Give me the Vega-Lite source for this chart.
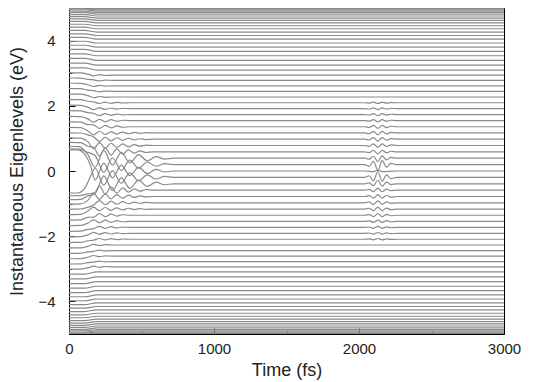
{
"$schema": "https://vega.github.io/schema/vega-lite/v6.json",
"width": 435, "height": 326,
"autosize": {"type": "none"},
"padding": {"left": 69, "top": 8, "right": 30, "bottom": 48},
"background": "white",
"config": {"view": {"stroke": "black", "strokeWidth": 1},
 "axis": {"grid": false, "domainColor": "black", "tickColor": "black", "labelFont": "Liberation Sans", "titleFont": "Liberation Sans", "labelFontSize": 15, "titleFontSize": 18, "titleFontWeight": "normal", "labelColor": "#222", "titleColor": "#222"}},
"data": {"values": [
{"k":1,"t":0,"e":5.038},{"k":1,"t":110,"e":5.038},{"k":1,"t":190,"e":4.996},{"k":1,"t":3000,"e":4.996},
{"k":2,"t":0,"e":5.027},{"k":2,"t":110,"e":5.027},{"k":2,"t":190,"e":4.985},{"k":2,"t":3000,"e":4.985},
{"k":3,"t":0,"e":5.007},{"k":3,"t":110,"e":5.007},{"k":3,"t":190,"e":4.965},{"k":3,"t":3000,"e":4.965},
{"k":4,"t":0,"e":4.981},{"k":4,"t":110,"e":4.981},{"k":4,"t":190,"e":4.938},{"k":4,"t":3000,"e":4.938},
{"k":5,"t":0,"e":4.947},{"k":5,"t":110,"e":4.947},{"k":5,"t":190,"e":4.904},{"k":5,"t":3000,"e":4.904},
{"k":6,"t":0,"e":4.905},{"k":6,"t":110,"e":4.905},{"k":6,"t":190,"e":4.862},{"k":6,"t":3000,"e":4.862},
{"k":7,"t":0,"e":4.856},{"k":7,"t":110,"e":4.856},{"k":7,"t":190,"e":4.812},{"k":7,"t":3000,"e":4.812},
{"k":8,"t":0,"e":4.799},{"k":8,"t":110,"e":4.799},{"k":8,"t":190,"e":4.755},{"k":8,"t":3000,"e":4.755},
{"k":9,"t":0,"e":4.736},{"k":9,"t":110,"e":4.736},{"k":9,"t":190,"e":4.691},{"k":9,"t":3000,"e":4.691},
{"k":10,"t":0,"e":4.665},{"k":10,"t":110,"e":4.665},{"k":10,"t":190,"e":4.619},{"k":10,"t":3000,"e":4.619},
{"k":11,"t":0,"e":4.587},{"k":11,"t":110,"e":4.587},{"k":11,"t":190,"e":4.541},{"k":11,"t":3000,"e":4.541},
{"k":12,"t":0,"e":4.502},{"k":12,"t":110,"e":4.502},{"k":12,"t":190,"e":4.455},{"k":12,"t":3000,"e":4.455},
{"k":13,"t":0,"e":4.411},{"k":13,"t":110,"e":4.411},{"k":13,"t":190,"e":4.363},{"k":13,"t":3000,"e":4.363},
{"k":14,"t":0,"e":4.312},{"k":14,"t":110,"e":4.312},{"k":14,"t":190,"e":4.263},{"k":14,"t":3000,"e":4.263},
{"k":15,"t":0,"e":4.207},{"k":15,"t":110,"e":4.207},{"k":15,"t":190,"e":4.157},{"k":15,"t":3000,"e":4.157},
{"k":16,"t":0,"e":4.097},{"k":16,"t":110,"e":4.097},{"k":16,"t":190,"e":4.045},{"k":16,"t":3000,"e":4.045},
{"k":17,"t":0,"e":3.98},{"k":17,"t":110,"e":3.98},{"k":17,"t":190,"e":3.927},{"k":17,"t":3000,"e":3.927},
{"k":18,"t":0,"e":3.857},{"k":18,"t":110,"e":3.857},{"k":18,"t":190,"e":3.802},{"k":18,"t":3000,"e":3.802},
{"k":19,"t":0,"e":3.729},{"k":19,"t":110,"e":3.729},{"k":19,"t":190,"e":3.672},{"k":19,"t":3000,"e":3.672},
{"k":20,"t":0,"e":3.595},{"k":20,"t":110,"e":3.595},{"k":20,"t":190,"e":3.536},{"k":20,"t":3000,"e":3.536},
{"k":21,"t":0,"e":3.456},{"k":21,"t":110,"e":3.456},{"k":21,"t":190,"e":3.394},{"k":21,"t":3000,"e":3.394},
{"k":22,"t":0,"e":3.311},{"k":22,"t":110,"e":3.311},{"k":22,"t":190,"e":3.247},{"k":22,"t":3000,"e":3.247},
{"k":23,"t":0,"e":3.163},{"k":23,"t":110,"e":3.163},{"k":23,"t":190,"e":3.095},{"k":23,"t":3000,"e":3.095},
{"k":24,"t":0,"e":3.01},{"k":24,"t":80,"e":3.007},{"k":24,"t":130,"e":2.97},{"k":24,"t":170,"e":2.919},{"k":24,"t":210,"e":2.954},{"k":24,"t":250,"e":2.929},{"k":24,"t":300,"e":2.939},{"k":24,"t":3000,"e":2.939},
{"k":25,"t":0,"e":2.853},{"k":25,"t":80,"e":2.85},{"k":25,"t":130,"e":2.81},{"k":25,"t":170,"e":2.798},{"k":25,"t":210,"e":2.763},{"k":25,"t":250,"e":2.788},{"k":25,"t":300,"e":2.778},{"k":25,"t":3000,"e":2.778},
{"k":26,"t":0,"e":2.692},{"k":26,"t":80,"e":2.69},{"k":26,"t":130,"e":2.645},{"k":26,"t":170,"e":2.592},{"k":26,"t":210,"e":2.627},{"k":26,"t":250,"e":2.602},{"k":26,"t":300,"e":2.612},{"k":26,"t":3000,"e":2.612},
{"k":27,"t":0,"e":2.528},{"k":27,"t":80,"e":2.525},{"k":27,"t":130,"e":2.48},{"k":27,"t":170,"e":2.463},{"k":27,"t":210,"e":2.428},{"k":27,"t":250,"e":2.453},{"k":27,"t":300,"e":2.443},{"k":27,"t":3000,"e":2.443},
{"k":28,"t":0,"e":2.361},{"k":28,"t":80,"e":2.358},{"k":28,"t":130,"e":2.31},{"k":28,"t":170,"e":2.25},{"k":28,"t":210,"e":2.285},{"k":28,"t":250,"e":2.26},{"k":28,"t":300,"e":2.27},{"k":28,"t":3000,"e":2.27},
{"k":29,"t":0,"e":2.192},{"k":29,"t":80,"e":2.19},{"k":29,"t":130,"e":2.14},{"k":29,"t":170,"e":2.12},{"k":29,"t":210,"e":2.071},{"k":29,"t":250,"e":2.113},{"k":29,"t":290,"e":2.077},{"k":29,"t":330,"e":2.104},{"k":29,"t":370,"e":2.086},{"k":29,"t":420,"e":2.093},{"k":29,"t":2040,"e":2.093},{"k":29,"t":2070,"e":2.084},{"k":29,"t":2100,"e":2.111},{"k":29,"t":2130,"e":2.071},{"k":29,"t":2160,"e":2.111},{"k":29,"t":2190,"e":2.082},{"k":29,"t":2220,"e":2.1},{"k":29,"t":2260,"e":2.093},{"k":29,"t":3000,"e":2.093},
{"k":30,"t":0,"e":2.02},{"k":30,"t":80,"e":2.015},{"k":30,"t":130,"e":1.96},{"k":30,"t":170,"e":1.88},{"k":30,"t":210,"e":1.941},{"k":30,"t":250,"e":1.888},{"k":30,"t":290,"e":1.932},{"k":30,"t":330,"e":1.899},{"k":30,"t":370,"e":1.921},{"k":30,"t":420,"e":1.913},{"k":30,"t":2040,"e":1.913},{"k":30,"t":2070,"e":1.902},{"k":30,"t":2100,"e":1.935},{"k":30,"t":2130,"e":1.886},{"k":30,"t":2160,"e":1.935},{"k":30,"t":2190,"e":1.899},{"k":30,"t":2220,"e":1.921},{"k":30,"t":2260,"e":1.913},{"k":30,"t":3000,"e":1.913},
{"k":31,"t":0,"e":1.849},{"k":31,"t":80,"e":1.845},{"k":31,"t":130,"e":1.79},{"k":31,"t":170,"e":1.77},{"k":31,"t":210,"e":1.699},{"k":31,"t":250,"e":1.76},{"k":31,"t":290,"e":1.708},{"k":31,"t":330,"e":1.747},{"k":31,"t":370,"e":1.721},{"k":31,"t":420,"e":1.731},{"k":31,"t":2040,"e":1.731},{"k":31,"t":2070,"e":1.718},{"k":31,"t":2100,"e":1.757},{"k":31,"t":2130,"e":1.699},{"k":31,"t":2160,"e":1.757},{"k":31,"t":2190,"e":1.715},{"k":31,"t":2220,"e":1.741},{"k":31,"t":2260,"e":1.731},{"k":31,"t":3000,"e":1.731},
{"k":32,"t":0,"e":1.676},{"k":32,"t":80,"e":1.67},{"k":32,"t":130,"e":1.6},{"k":32,"t":170,"e":1.497},{"k":32,"t":210,"e":1.585},{"k":32,"t":250,"e":1.509},{"k":32,"t":290,"e":1.573},{"k":32,"t":330,"e":1.525},{"k":32,"t":370,"e":1.557},{"k":32,"t":420,"e":1.545},{"k":32,"t":2040,"e":1.545},{"k":32,"t":2070,"e":1.529},{"k":32,"t":2100,"e":1.577},{"k":32,"t":2130,"e":1.505},{"k":32,"t":2160,"e":1.577},{"k":32,"t":2190,"e":1.525},{"k":32,"t":2220,"e":1.557},{"k":32,"t":2260,"e":1.545},{"k":32,"t":3000,"e":1.545},
{"k":33,"t":0,"e":1.505},{"k":33,"t":80,"e":1.5},{"k":33,"t":130,"e":1.42},{"k":33,"t":170,"e":1.417},{"k":33,"t":210,"e":1.307},{"k":33,"t":250,"e":1.402},{"k":33,"t":290,"e":1.322},{"k":33,"t":330,"e":1.382},{"k":33,"t":370,"e":1.342},{"k":33,"t":420,"e":1.357},{"k":33,"t":2040,"e":1.357},{"k":33,"t":2070,"e":1.337},{"k":33,"t":2100,"e":1.397},{"k":33,"t":2130,"e":1.307},{"k":33,"t":2160,"e":1.397},{"k":33,"t":2190,"e":1.332},{"k":33,"t":2220,"e":1.372},{"k":33,"t":2260,"e":1.357},{"k":33,"t":3000,"e":1.357},
{"k":34,"t":0,"e":1.336},{"k":34,"t":80,"e":1.33},{"k":34,"t":130,"e":1.23},{"k":34,"t":170,"e":1.111},{"k":34,"t":210,"e":1.219},{"k":34,"t":250,"e":1.119},{"k":34,"t":290,"e":1.207},{"k":34,"t":330,"e":1.131},{"k":34,"t":370,"e":1.195},{"k":34,"t":410,"e":1.143},{"k":34,"t":450,"e":1.183},{"k":34,"t":490,"e":1.155},{"k":34,"t":530,"e":1.175},{"k":34,"t":580,"e":1.167},{"k":34,"t":2040,"e":1.167},{"k":34,"t":2070,"e":1.143},{"k":34,"t":2100,"e":1.215},{"k":34,"t":2130,"e":1.107},{"k":34,"t":2160,"e":1.215},{"k":34,"t":2190,"e":1.137},{"k":34,"t":2220,"e":1.185},{"k":34,"t":2260,"e":1.167},{"k":34,"t":3000,"e":1.167},
{"k":35,"t":0,"e":1.172},{"k":35,"t":80,"e":1.165},{"k":35,"t":130,"e":1.11},{"k":35,"t":170,"e":1.045},{"k":35,"t":210,"e":0.91},{"k":35,"t":250,"e":1.035},{"k":35,"t":290,"e":0.925},{"k":35,"t":330,"e":1.02},{"k":35,"t":370,"e":0.94},{"k":35,"t":410,"e":1.005},{"k":35,"t":450,"e":0.955},{"k":35,"t":490,"e":0.99},{"k":35,"t":530,"e":0.965},{"k":35,"t":580,"e":0.975},{"k":35,"t":2040,"e":0.975},{"k":35,"t":2070,"e":0.951},{"k":35,"t":2100,"e":1.023},{"k":35,"t":2130,"e":0.915},{"k":35,"t":2160,"e":1.023},{"k":35,"t":2190,"e":0.945},{"k":35,"t":2220,"e":0.993},{"k":35,"t":2260,"e":0.975},{"k":35,"t":3000,"e":0.975},
{"k":36,"t":0,"e":1.017},{"k":36,"t":80,"e":1.01},{"k":36,"t":130,"e":0.9},{"k":36,"t":170,"e":0.682},{"k":36,"t":210,"e":0.872},{"k":36,"t":250,"e":0.702},{"k":36,"t":290,"e":0.852},{"k":36,"t":330,"e":0.722},{"k":36,"t":370,"e":0.832},{"k":36,"t":410,"e":0.742},{"k":36,"t":450,"e":0.812},{"k":36,"t":490,"e":0.762},{"k":36,"t":530,"e":0.792},{"k":36,"t":580,"e":0.782},{"k":36,"t":2040,"e":0.782},{"k":36,"t":2070,"e":0.758},{"k":36,"t":2100,"e":0.83},{"k":36,"t":2130,"e":0.722},{"k":36,"t":2160,"e":0.83},{"k":36,"t":2190,"e":0.752},{"k":36,"t":2220,"e":0.8},{"k":36,"t":2260,"e":0.782},{"k":36,"t":3000,"e":0.782},
{"k":37,"t":0,"e":0.877},{"k":37,"t":80,"e":0.87},{"k":37,"t":130,"e":0.76},{"k":37,"t":170,"e":0.728},{"k":37,"t":210,"e":0.458},{"k":37,"t":250,"e":0.708},{"k":37,"t":290,"e":0.488},{"k":37,"t":330,"e":0.678},{"k":37,"t":370,"e":0.518},{"k":37,"t":410,"e":0.648},{"k":37,"t":450,"e":0.548},{"k":37,"t":490,"e":0.618},{"k":37,"t":530,"e":0.568},{"k":37,"t":580,"e":0.588},{"k":37,"t":2040,"e":0.588},{"k":37,"t":2070,"e":0.564},{"k":37,"t":2100,"e":0.636},{"k":37,"t":2130,"e":0.528},{"k":37,"t":2160,"e":0.636},{"k":37,"t":2190,"e":0.558},{"k":37,"t":2220,"e":0.606},{"k":37,"t":2260,"e":0.588},{"k":37,"t":3000,"e":0.588},
{"k":38,"t":0,"e":0.759},{"k":38,"t":70,"e":0.75},{"k":38,"t":130,"e":0.5},{"k":38,"t":180,"e":0.112},{"k":38,"t":240,"e":0.632},{"k":38,"t":300,"e":0.182},{"k":38,"t":360,"e":0.572},{"k":38,"t":420,"e":0.252},{"k":38,"t":480,"e":0.502},{"k":38,"t":540,"e":0.312},{"k":38,"t":600,"e":0.442},{"k":38,"t":660,"e":0.362},{"k":38,"t":720,"e":0.392},{"k":38,"t":2040,"e":0.392},{"k":38,"t":2070,"e":0.362},{"k":38,"t":2100,"e":0.452},{"k":38,"t":2130,"e":0.284},{"k":38,"t":2160,"e":0.464},{"k":38,"t":2190,"e":0.344},{"k":38,"t":2220,"e":0.416},{"k":38,"t":2260,"e":0.392},{"k":38,"t":3000,"e":0.392},
{"k":39,"t":0,"e":0.679},{"k":39,"t":70,"e":0.67},{"k":39,"t":130,"e":0.57},{"k":39,"t":180,"e":0.476},{"k":39,"t":240,"e":-0.044},{"k":39,"t":300,"e":0.406},{"k":39,"t":360,"e":0.016},{"k":39,"t":420,"e":0.336},{"k":39,"t":480,"e":0.086},{"k":39,"t":540,"e":0.276},{"k":39,"t":600,"e":0.146},{"k":39,"t":660,"e":0.226},{"k":39,"t":720,"e":0.196},{"k":39,"t":2040,"e":0.196},{"k":39,"t":2070,"e":0.146},{"k":39,"t":2100,"e":0.296},{"k":39,"t":2130,"e":0.016},{"k":39,"t":2160,"e":0.316},{"k":39,"t":2190,"e":0.116},{"k":39,"t":2220,"e":0.236},{"k":39,"t":2260,"e":0.196},{"k":39,"t":3000,"e":0.196},
{"k":40,"t":0,"e":0.65},{"k":40,"t":60,"e":0.645},{"k":40,"t":110,"e":0.5},{"k":40,"t":150,"e":0.15},{"k":40,"t":180,"e":-0.28},{"k":40,"t":240,"e":0.24},{"k":40,"t":300,"e":-0.21},{"k":40,"t":360,"e":0.18},{"k":40,"t":420,"e":-0.14},{"k":40,"t":480,"e":0.11},{"k":40,"t":540,"e":-0.08},{"k":40,"t":600,"e":0.05},{"k":40,"t":660,"e":-0.03},{"k":40,"t":720,"e":0},{"k":40,"t":2040,"e":0},{"k":40,"t":2100,"e":-0.02},{"k":40,"t":2130,"e":0.03},{"k":40,"t":2160,"e":-0.02},{"k":40,"t":2260,"e":0},{"k":40,"t":3000,"e":0},
{"k":41,"t":0,"e":-0.679},{"k":41,"t":60,"e":-0.675},{"k":41,"t":110,"e":-0.52},{"k":41,"t":150,"e":-0.15},{"k":41,"t":180,"e":0.084},{"k":41,"t":240,"e":-0.436},{"k":41,"t":300,"e":0.014},{"k":41,"t":360,"e":-0.376},{"k":41,"t":420,"e":-0.056},{"k":41,"t":480,"e":-0.306},{"k":41,"t":540,"e":-0.116},{"k":41,"t":600,"e":-0.246},{"k":41,"t":660,"e":-0.166},{"k":41,"t":720,"e":-0.196},{"k":41,"t":2040,"e":-0.196},{"k":41,"t":2070,"e":-0.146},{"k":41,"t":2100,"e":-0.296},{"k":41,"t":2130,"e":-0.016},{"k":41,"t":2160,"e":-0.316},{"k":41,"t":2190,"e":-0.116},{"k":41,"t":2220,"e":-0.236},{"k":41,"t":2260,"e":-0.196},{"k":41,"t":3000,"e":-0.196},
{"k":42,"t":0,"e":-0.759},{"k":42,"t":70,"e":-0.755},{"k":42,"t":130,"e":-0.7},{"k":42,"t":180,"e":-0.672},{"k":42,"t":240,"e":-0.152},{"k":42,"t":300,"e":-0.602},{"k":42,"t":360,"e":-0.212},{"k":42,"t":420,"e":-0.532},{"k":42,"t":480,"e":-0.282},{"k":42,"t":540,"e":-0.472},{"k":42,"t":600,"e":-0.342},{"k":42,"t":660,"e":-0.422},{"k":42,"t":720,"e":-0.392},{"k":42,"t":2040,"e":-0.392},{"k":42,"t":2070,"e":-0.362},{"k":42,"t":2100,"e":-0.452},{"k":42,"t":2130,"e":-0.284},{"k":42,"t":2160,"e":-0.464},{"k":42,"t":2190,"e":-0.344},{"k":42,"t":2220,"e":-0.416},{"k":42,"t":2260,"e":-0.392},{"k":42,"t":3000,"e":-0.392},
{"k":43,"t":0,"e":-0.877},{"k":43,"t":80,"e":-0.87},{"k":43,"t":130,"e":-0.76},{"k":43,"t":170,"e":-0.728},{"k":43,"t":210,"e":-0.458},{"k":43,"t":250,"e":-0.708},{"k":43,"t":290,"e":-0.488},{"k":43,"t":330,"e":-0.678},{"k":43,"t":370,"e":-0.518},{"k":43,"t":410,"e":-0.648},{"k":43,"t":450,"e":-0.548},{"k":43,"t":490,"e":-0.618},{"k":43,"t":530,"e":-0.568},{"k":43,"t":580,"e":-0.588},{"k":43,"t":2040,"e":-0.588},{"k":43,"t":2070,"e":-0.564},{"k":43,"t":2100,"e":-0.636},{"k":43,"t":2130,"e":-0.528},{"k":43,"t":2160,"e":-0.636},{"k":43,"t":2190,"e":-0.558},{"k":43,"t":2220,"e":-0.606},{"k":43,"t":2260,"e":-0.588},{"k":43,"t":3000,"e":-0.588},
{"k":44,"t":0,"e":-1.017},{"k":44,"t":80,"e":-1.01},{"k":44,"t":130,"e":-0.9},{"k":44,"t":170,"e":-0.682},{"k":44,"t":210,"e":-0.872},{"k":44,"t":250,"e":-0.702},{"k":44,"t":290,"e":-0.852},{"k":44,"t":330,"e":-0.722},{"k":44,"t":370,"e":-0.832},{"k":44,"t":410,"e":-0.742},{"k":44,"t":450,"e":-0.812},{"k":44,"t":490,"e":-0.762},{"k":44,"t":530,"e":-0.792},{"k":44,"t":580,"e":-0.782},{"k":44,"t":2040,"e":-0.782},{"k":44,"t":2070,"e":-0.758},{"k":44,"t":2100,"e":-0.83},{"k":44,"t":2130,"e":-0.722},{"k":44,"t":2160,"e":-0.83},{"k":44,"t":2190,"e":-0.752},{"k":44,"t":2220,"e":-0.8},{"k":44,"t":2260,"e":-0.782},{"k":44,"t":3000,"e":-0.782},
{"k":45,"t":0,"e":-1.172},{"k":45,"t":80,"e":-1.165},{"k":45,"t":130,"e":-1.11},{"k":45,"t":170,"e":-1.045},{"k":45,"t":210,"e":-0.91},{"k":45,"t":250,"e":-1.035},{"k":45,"t":290,"e":-0.925},{"k":45,"t":330,"e":-1.02},{"k":45,"t":370,"e":-0.94},{"k":45,"t":410,"e":-1.005},{"k":45,"t":450,"e":-0.955},{"k":45,"t":490,"e":-0.99},{"k":45,"t":530,"e":-0.965},{"k":45,"t":580,"e":-0.975},{"k":45,"t":2040,"e":-0.975},{"k":45,"t":2070,"e":-0.951},{"k":45,"t":2100,"e":-1.023},{"k":45,"t":2130,"e":-0.915},{"k":45,"t":2160,"e":-1.023},{"k":45,"t":2190,"e":-0.945},{"k":45,"t":2220,"e":-0.993},{"k":45,"t":2260,"e":-0.975},{"k":45,"t":3000,"e":-0.975},
{"k":46,"t":0,"e":-1.336},{"k":46,"t":80,"e":-1.33},{"k":46,"t":130,"e":-1.23},{"k":46,"t":170,"e":-1.111},{"k":46,"t":210,"e":-1.219},{"k":46,"t":250,"e":-1.119},{"k":46,"t":290,"e":-1.207},{"k":46,"t":330,"e":-1.131},{"k":46,"t":370,"e":-1.195},{"k":46,"t":410,"e":-1.143},{"k":46,"t":450,"e":-1.183},{"k":46,"t":490,"e":-1.155},{"k":46,"t":530,"e":-1.175},{"k":46,"t":580,"e":-1.167},{"k":46,"t":2040,"e":-1.167},{"k":46,"t":2070,"e":-1.143},{"k":46,"t":2100,"e":-1.215},{"k":46,"t":2130,"e":-1.107},{"k":46,"t":2160,"e":-1.215},{"k":46,"t":2190,"e":-1.137},{"k":46,"t":2220,"e":-1.185},{"k":46,"t":2260,"e":-1.167},{"k":46,"t":3000,"e":-1.167},
{"k":47,"t":0,"e":-1.505},{"k":47,"t":80,"e":-1.5},{"k":47,"t":130,"e":-1.42},{"k":47,"t":170,"e":-1.417},{"k":47,"t":210,"e":-1.307},{"k":47,"t":250,"e":-1.402},{"k":47,"t":290,"e":-1.322},{"k":47,"t":330,"e":-1.382},{"k":47,"t":370,"e":-1.342},{"k":47,"t":420,"e":-1.357},{"k":47,"t":2040,"e":-1.357},{"k":47,"t":2070,"e":-1.337},{"k":47,"t":2100,"e":-1.397},{"k":47,"t":2130,"e":-1.307},{"k":47,"t":2160,"e":-1.397},{"k":47,"t":2190,"e":-1.332},{"k":47,"t":2220,"e":-1.372},{"k":47,"t":2260,"e":-1.357},{"k":47,"t":3000,"e":-1.357},
{"k":48,"t":0,"e":-1.676},{"k":48,"t":80,"e":-1.67},{"k":48,"t":130,"e":-1.6},{"k":48,"t":170,"e":-1.497},{"k":48,"t":210,"e":-1.585},{"k":48,"t":250,"e":-1.509},{"k":48,"t":290,"e":-1.573},{"k":48,"t":330,"e":-1.525},{"k":48,"t":370,"e":-1.557},{"k":48,"t":420,"e":-1.545},{"k":48,"t":2040,"e":-1.545},{"k":48,"t":2070,"e":-1.529},{"k":48,"t":2100,"e":-1.577},{"k":48,"t":2130,"e":-1.505},{"k":48,"t":2160,"e":-1.577},{"k":48,"t":2190,"e":-1.525},{"k":48,"t":2220,"e":-1.557},{"k":48,"t":2260,"e":-1.545},{"k":48,"t":3000,"e":-1.545},
{"k":49,"t":0,"e":-1.849},{"k":49,"t":80,"e":-1.845},{"k":49,"t":130,"e":-1.79},{"k":49,"t":170,"e":-1.77},{"k":49,"t":210,"e":-1.699},{"k":49,"t":250,"e":-1.76},{"k":49,"t":290,"e":-1.708},{"k":49,"t":330,"e":-1.747},{"k":49,"t":370,"e":-1.721},{"k":49,"t":420,"e":-1.731},{"k":49,"t":2040,"e":-1.731},{"k":49,"t":2070,"e":-1.718},{"k":49,"t":2100,"e":-1.757},{"k":49,"t":2130,"e":-1.699},{"k":49,"t":2160,"e":-1.757},{"k":49,"t":2190,"e":-1.715},{"k":49,"t":2220,"e":-1.741},{"k":49,"t":2260,"e":-1.731},{"k":49,"t":3000,"e":-1.731},
{"k":50,"t":0,"e":-2.02},{"k":50,"t":80,"e":-2.015},{"k":50,"t":130,"e":-1.96},{"k":50,"t":170,"e":-1.88},{"k":50,"t":210,"e":-1.941},{"k":50,"t":250,"e":-1.888},{"k":50,"t":290,"e":-1.932},{"k":50,"t":330,"e":-1.899},{"k":50,"t":370,"e":-1.921},{"k":50,"t":420,"e":-1.913},{"k":50,"t":2040,"e":-1.913},{"k":50,"t":2070,"e":-1.902},{"k":50,"t":2100,"e":-1.935},{"k":50,"t":2130,"e":-1.886},{"k":50,"t":2160,"e":-1.935},{"k":50,"t":2190,"e":-1.899},{"k":50,"t":2220,"e":-1.921},{"k":50,"t":2260,"e":-1.913},{"k":50,"t":3000,"e":-1.913},
{"k":51,"t":0,"e":-2.192},{"k":51,"t":80,"e":-2.19},{"k":51,"t":130,"e":-2.14},{"k":51,"t":170,"e":-2.12},{"k":51,"t":210,"e":-2.071},{"k":51,"t":250,"e":-2.113},{"k":51,"t":290,"e":-2.077},{"k":51,"t":330,"e":-2.104},{"k":51,"t":370,"e":-2.086},{"k":51,"t":420,"e":-2.093},{"k":51,"t":2040,"e":-2.093},{"k":51,"t":2070,"e":-2.084},{"k":51,"t":2100,"e":-2.111},{"k":51,"t":2130,"e":-2.071},{"k":51,"t":2160,"e":-2.111},{"k":51,"t":2190,"e":-2.082},{"k":51,"t":2220,"e":-2.1},{"k":51,"t":2260,"e":-2.093},{"k":51,"t":3000,"e":-2.093},
{"k":52,"t":0,"e":-2.361},{"k":52,"t":80,"e":-2.358},{"k":52,"t":130,"e":-2.31},{"k":52,"t":170,"e":-2.25},{"k":52,"t":210,"e":-2.285},{"k":52,"t":250,"e":-2.26},{"k":52,"t":300,"e":-2.27},{"k":52,"t":3000,"e":-2.27},
{"k":53,"t":0,"e":-2.528},{"k":53,"t":80,"e":-2.525},{"k":53,"t":130,"e":-2.48},{"k":53,"t":170,"e":-2.463},{"k":53,"t":210,"e":-2.428},{"k":53,"t":250,"e":-2.453},{"k":53,"t":300,"e":-2.443},{"k":53,"t":3000,"e":-2.443},
{"k":54,"t":0,"e":-2.692},{"k":54,"t":80,"e":-2.69},{"k":54,"t":130,"e":-2.645},{"k":54,"t":170,"e":-2.592},{"k":54,"t":210,"e":-2.627},{"k":54,"t":250,"e":-2.602},{"k":54,"t":300,"e":-2.612},{"k":54,"t":3000,"e":-2.612},
{"k":55,"t":0,"e":-2.853},{"k":55,"t":80,"e":-2.85},{"k":55,"t":130,"e":-2.81},{"k":55,"t":170,"e":-2.798},{"k":55,"t":210,"e":-2.763},{"k":55,"t":250,"e":-2.788},{"k":55,"t":300,"e":-2.778},{"k":55,"t":3000,"e":-2.778},
{"k":56,"t":0,"e":-3.01},{"k":56,"t":80,"e":-3.007},{"k":56,"t":130,"e":-2.97},{"k":56,"t":170,"e":-2.919},{"k":56,"t":210,"e":-2.954},{"k":56,"t":250,"e":-2.929},{"k":56,"t":300,"e":-2.939},{"k":56,"t":3000,"e":-2.939},
{"k":57,"t":0,"e":-3.163},{"k":57,"t":110,"e":-3.163},{"k":57,"t":190,"e":-3.095},{"k":57,"t":3000,"e":-3.095},
{"k":58,"t":0,"e":-3.311},{"k":58,"t":110,"e":-3.311},{"k":58,"t":190,"e":-3.247},{"k":58,"t":3000,"e":-3.247},
{"k":59,"t":0,"e":-3.456},{"k":59,"t":110,"e":-3.456},{"k":59,"t":190,"e":-3.394},{"k":59,"t":3000,"e":-3.394},
{"k":60,"t":0,"e":-3.595},{"k":60,"t":110,"e":-3.595},{"k":60,"t":190,"e":-3.536},{"k":60,"t":3000,"e":-3.536},
{"k":61,"t":0,"e":-3.729},{"k":61,"t":110,"e":-3.729},{"k":61,"t":190,"e":-3.672},{"k":61,"t":3000,"e":-3.672},
{"k":62,"t":0,"e":-3.857},{"k":62,"t":110,"e":-3.857},{"k":62,"t":190,"e":-3.802},{"k":62,"t":3000,"e":-3.802},
{"k":63,"t":0,"e":-3.98},{"k":63,"t":110,"e":-3.98},{"k":63,"t":190,"e":-3.927},{"k":63,"t":3000,"e":-3.927},
{"k":64,"t":0,"e":-4.097},{"k":64,"t":110,"e":-4.097},{"k":64,"t":190,"e":-4.045},{"k":64,"t":3000,"e":-4.045},
{"k":65,"t":0,"e":-4.207},{"k":65,"t":110,"e":-4.207},{"k":65,"t":190,"e":-4.157},{"k":65,"t":3000,"e":-4.157},
{"k":66,"t":0,"e":-4.312},{"k":66,"t":110,"e":-4.312},{"k":66,"t":190,"e":-4.263},{"k":66,"t":3000,"e":-4.263},
{"k":67,"t":0,"e":-4.411},{"k":67,"t":110,"e":-4.411},{"k":67,"t":190,"e":-4.363},{"k":67,"t":3000,"e":-4.363},
{"k":68,"t":0,"e":-4.502},{"k":68,"t":110,"e":-4.502},{"k":68,"t":190,"e":-4.455},{"k":68,"t":3000,"e":-4.455},
{"k":69,"t":0,"e":-4.587},{"k":69,"t":110,"e":-4.587},{"k":69,"t":190,"e":-4.541},{"k":69,"t":3000,"e":-4.541},
{"k":70,"t":0,"e":-4.665},{"k":70,"t":110,"e":-4.665},{"k":70,"t":190,"e":-4.619},{"k":70,"t":3000,"e":-4.619},
{"k":71,"t":0,"e":-4.736},{"k":71,"t":110,"e":-4.736},{"k":71,"t":190,"e":-4.691},{"k":71,"t":3000,"e":-4.691},
{"k":72,"t":0,"e":-4.799},{"k":72,"t":110,"e":-4.799},{"k":72,"t":190,"e":-4.755},{"k":72,"t":3000,"e":-4.755},
{"k":73,"t":0,"e":-4.856},{"k":73,"t":110,"e":-4.856},{"k":73,"t":190,"e":-4.812},{"k":73,"t":3000,"e":-4.812},
{"k":74,"t":0,"e":-4.905},{"k":74,"t":110,"e":-4.905},{"k":74,"t":190,"e":-4.862},{"k":74,"t":3000,"e":-4.862},
{"k":75,"t":0,"e":-4.947},{"k":75,"t":110,"e":-4.947},{"k":75,"t":190,"e":-4.904},{"k":75,"t":3000,"e":-4.904},
{"k":76,"t":0,"e":-4.981},{"k":76,"t":110,"e":-4.981},{"k":76,"t":190,"e":-4.938},{"k":76,"t":3000,"e":-4.938},
{"k":77,"t":0,"e":-5.007},{"k":77,"t":110,"e":-5.007},{"k":77,"t":190,"e":-4.965},{"k":77,"t":3000,"e":-4.965},
{"k":78,"t":0,"e":-5.027},{"k":78,"t":110,"e":-5.027},{"k":78,"t":190,"e":-4.985},{"k":78,"t":3000,"e":-4.985},
{"k":79,"t":0,"e":-5.038},{"k":79,"t":110,"e":-5.038},{"k":79,"t":190,"e":-4.996},{"k":79,"t":3000,"e":-4.996}
]},
"mark": {"type": "line", "interpolate": "monotone", "clip": true, "color": "#8a8a8a", "strokeWidth": 1.2},
"encoding": {
 "x": {"field": "t", "type": "quantitative", "scale": {"domain": [0, 3000], "nice": false},
  "axis": {"title": "Time (fs)", "values": [0, 500, 1000, 1500, 2000, 2500, 3000], "format": "d",
   "labelExpr": "datum.value % 1000 === 0 ? datum.label : ''",
   "tickSize": {"condition": {"test": "datum.value % 1000 === 0", "value": -6}, "value": -3},
   "labelPadding": 13, "titlePadding": 2, "labelFlush": false, "labelOverlap": false}},
 "y": {"field": "e", "type": "quantitative", "scale": {"domain": [-5, 5], "nice": false},
  "axis": {"title": "Instantaneous Eigenlevels (eV)", "values": [-4, -3, -2, -1, 0, 1, 2, 3, 4], "format": "d",
   "labelExpr": "datum.value % 2 === 0 ? datum.label : ''",
   "tickSize": {"condition": {"test": "datum.value % 2 === 0", "value": -6}, "value": -3},
   "labelPadding": 20, "titlePadding": 11, "labelFlush": false, "labelOverlap": false}},
 "detail": {"field": "k", "type": "nominal"}
}
}
